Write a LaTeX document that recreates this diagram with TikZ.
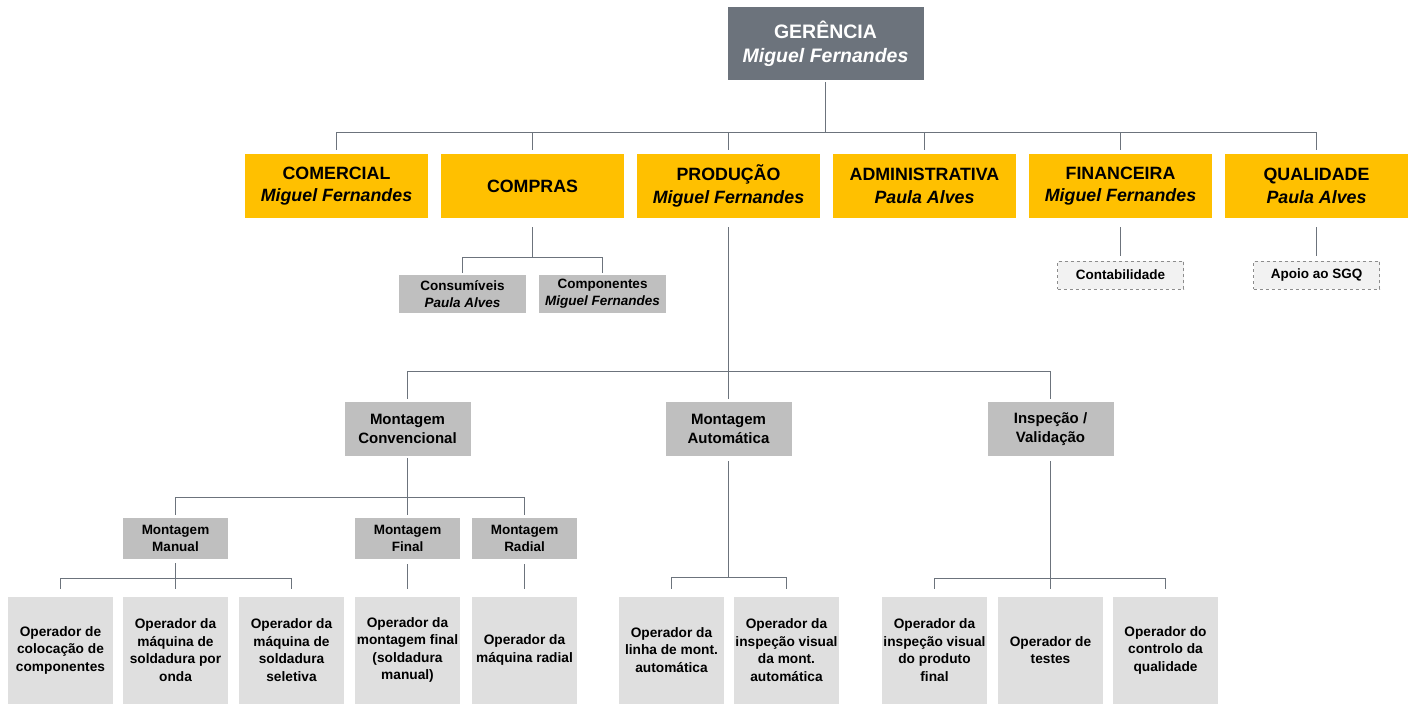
\documentclass[tikz,border=0pt]{standalone}
\usepackage{fontspec}
\setmainfont{Liberation Sans}
\usepackage{tikz}

\definecolor{gerfill}{RGB}{108,115,124}
\definecolor{linecol}{RGB}{108,115,124}
\definecolor{deptfill}{RGB}{255,192,0}
\definecolor{secfill}{RGB}{191,191,191}
\definecolor{opfill}{RGB}{223,223,223}
\definecolor{dashfill}{RGB}{242,242,242}
\definecolor{dashcol}{RGB}{140,140,140}

\begin{document}
\begin{tikzpicture}[x=1pt,y=-1pt,
  every node/.style={inner sep=0pt, align=center, text=black},
  gerbox/.style={fill=gerfill, text=white, minimum width=196pt, minimum height=73pt, font=\bfseries\fontsize{19.5}{24}\selectfont},
  deptbox/.style={fill=deptfill, minimum width=183pt, minimum height=64pt, font=\bfseries\fontsize{17.8}{22.5}\selectfont},
  secbox/.style={fill=secfill, minimum width=126pt, minimum height=54pt, font=\bfseries\fontsize{15}{19}\selectfont},
  subbox/.style={fill=secfill, minimum width=105pt, minimum height=41pt, font=\bfseries\fontsize{13.5}{17.3}\selectfont},
  dashbox/.style={fill=dashfill, draw=dashcol, dashed, line width=1pt, minimum width=126pt, minimum height=28pt, font=\bfseries\fontsize{13.5}{17}\selectfont},
  opbox/.style={fill=opfill, minimum width=105pt, minimum height=107pt, font=\bfseries\fontsize{13.7}{17.5}\selectfont},
  link/.style={draw=linecol, line width=1.3pt}]
\useasboundingbox (0,0) rectangle (1413,704);

\node[gerbox] (ger) at (825.5,43.5) {GERÊNCIA\\\textit{Miguel Fernandes}};

\node[deptbox] (com) at (336.5,186) {COMERCIAL\\\textit{Miguel Fernandes}};
\node[deptbox] (cpr) at (532.5,186) {COMPRAS};
\node[deptbox] (prd) at (728.5,186) {PRODUÇÃO\\\textit{Miguel Fernandes}};
\node[deptbox] (adm) at (924.5,186) {ADMINISTRATIVA\\\textit{Paula Alves}};
\node[deptbox] (fin) at (1120.5,186) {FINANCEIRA\\\textit{Miguel Fernandes}};
\node[deptbox] (qua) at (1316.5,186) {QUALIDADE\\\textit{Paula Alves}};

\node[subbox, minimum width=127pt, minimum height=38pt] (csm) at (462.5,294) {Consumíveis\\\textit{Paula Alves}};
\node[subbox, minimum width=127pt, minimum height=38pt] (cmp) at (602.5,294) {Componentes\\\textit{Miguel Fernandes}};
\node[dashbox] (ctb) at (1120.5,275) {Contabilidade};
\node[dashbox] (sgq) at (1316.5,275) {Apoio ao SGQ};

\node[secbox] (mcv) at (407.5,429) {Montagem\\Convencional};
\node[secbox] (mat) at (728.5,429) {Montagem\\Automática};
\node[secbox] (ivl) at (1050.5,429) {Inspeção /\\Validação};

\node[subbox] (mma) at (175.5,538.5) {Montagem\\Manual};
\node[subbox] (mfi) at (407.5,538.5) {Montagem\\Final};
\node[subbox] (mra) at (524.5,538.5) {Montagem\\Radial};

\node[opbox] (opc) at (60.5,650) {Operador de\\colocação de\\componentes};
\node[opbox] (opo) at (175.5,650) {Operador da\\máquina de\\soldadura por\\onda};
\node[opbox] (ops) at (291.5,650) {Operador da\\máquina de\\soldadura\\seletiva};
\node[opbox] (opf) at (407.5,650) {Operador da\\montagem final\\(soldadura\\manual)};
\node[opbox] (opr) at (524.5,650) {Operador da\\máquina radial};
\node[opbox] (ola) at (671.5,650) {Operador da\\linha de mont.\\automática};
\node[opbox] (oiv) at (786.5,650) {Operador da\\inspeção visual\\da mont.\\automática};
\node[opbox] (oip) at (934.5,650) {Operador da\\inspeção visual\\do produto\\final};
\node[opbox] (ote) at (1050.5,650) {Operador de\\testes};
\node[opbox] (oqc) at (1165.5,650) {Operador do\\controlo da\\qualidade};

\draw[link, shorten <=2pt] (ger.south) -- ++(0,52.5) coordinate (gbar);
\foreach \d in {com,cpr,prd,adm,fin,qua}
  \draw[link, shorten >=4pt] (gbar) -| (\d.north);
\draw[link, shorten <=9pt] (cpr.south) -- ++(0,39.5) coordinate (cbar);
\foreach \s in {csm,cmp}
  \draw[link, shorten >=2pt] (cbar) -| (\s.north);
\draw[link, shorten <=9pt, shorten >=5pt] (fin.south) -- (ctb.north);
\draw[link, shorten <=9pt, shorten >=5pt] (qua.south) -- (sgq.north);

\draw[link, shorten <=9pt] (prd.south) -- ++(0,153.5) coordinate (pbar);
\foreach \s in {mcv,mat,ivl}
  \draw[link, shorten >=3pt] (pbar) -| (\s.north);
\draw[link, shorten <=2pt] (mcv.south) -- ++(0,41.5) coordinate (vbar);
\foreach \s in {mma,mfi,mra}
  \draw[link, shorten >=3pt] (vbar) -| (\s.north);

\draw[link, shorten <=4pt] (mma.south) -- ++(0,19.5) coordinate (mbar);
\foreach \s in {opc,opo,ops}
  \draw[link, shorten >=7pt] (mbar) -| (\s.north);
\draw[link, shorten <=5pt, shorten >=7pt] (mfi.south) -- (opf.north);
\draw[link, shorten <=5pt, shorten >=7pt] (mra.south) -- (opr.north);
\draw[link, shorten <=5pt] (mat.south) -- ++(0,121.5) coordinate (abar);
\foreach \s in {ola,oiv}
  \draw[link, shorten >=7pt] (abar) -| (\s.north);
\draw[link, shorten <=5pt] (ivl.south) -- ++(0,122.5) coordinate (ibar);
\foreach \s in {oip,ote,oqc}
  \draw[link, shorten >=7pt] (ibar) -| (\s.north);
\end{tikzpicture}
\end{document}
